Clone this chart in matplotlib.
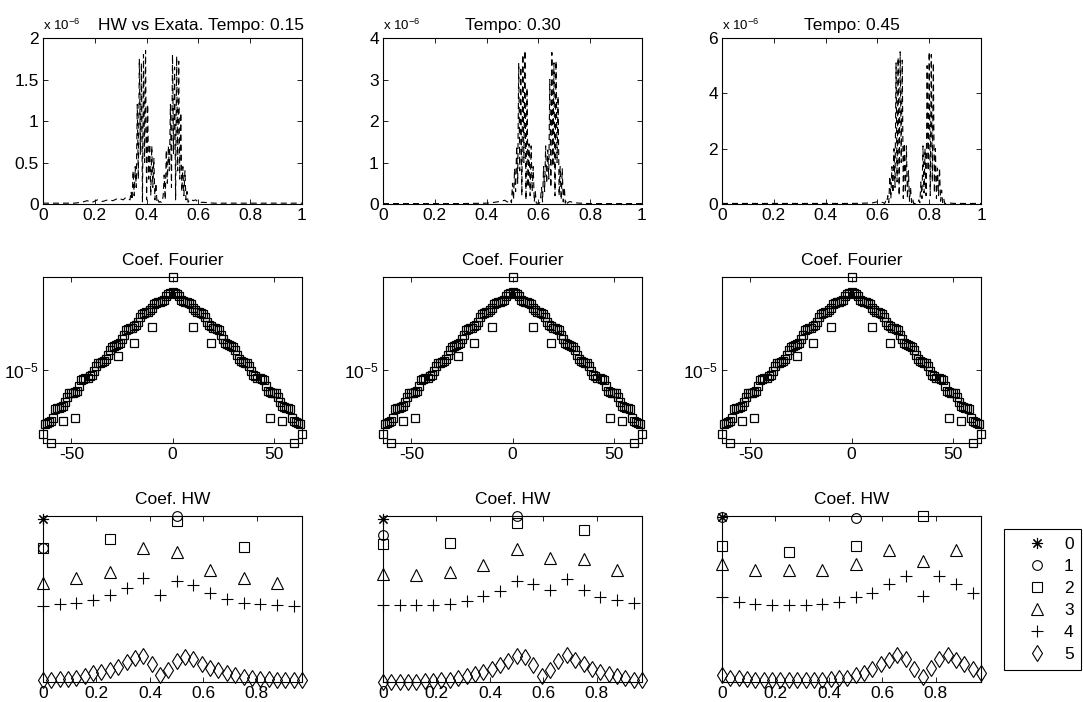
import numpy as np
import matplotlib
matplotlib.use("Agg")
import matplotlib.pyplot as plt
from matplotlib.ticker import FixedLocator, FuncFormatter, NullLocator

# ---------------------------------------------------------------------------
# Data
# ---------------------------------------------------------------------------
STEP = 0.004  # spacing of the dense samples in the error curves

# error HW vs exact (units of 1e-6), Tempo 0.15
err015_bg_x = [0.0, 0.04, 0.08, 0.12, 0.15, 0.17, 0.19, 0.21, 0.23, 0.25, 0.27, 0.29, 0.31, 0.32, 0.33,
               0.57, 0.58, 0.59, 0.60, 0.62, 0.66, 0.70, 0.75, 0.80, 0.85, 0.90, 0.95, 1.0]
err015_bg_y = [0.01, 0.01, 0.01, 0.01, 0.02, 0.04, 0.02, 0.05, 0.03, 0.05, 0.04, 0.07, 0.05, 0.08, 0.06,
               0.06, 0.04, 0.05, 0.02, 0.02, 0.01, 0.01, 0.01, 0.01, 0.01, 0.01, 0.01, 0.01]
err015_start = 0.336
err015_y = [0.05, 0.15, 0.05, 0.40, 0.10, 0.45, 0.20, 1.20, 0.30, 1.75, 0.60, 1.70, 0.02, 1.80,
            0.50, 1.85, 0.05, 1.20, 0.30, 0.72, 0.10, 0.70, 0.20, 0.55, 0.05, 0.25, 0.02, 0.05,
            0.02, 0.03,
            0.02, 0.02, 0.10, 0.35, 0.05, 0.65, 0.25, 0.70, 0.40, 1.20, 0.20, 1.80, 0.60, 1.65,
            0.05, 1.78, 0.40, 1.72, 0.30, 1.10, 0.15, 0.45, 0.10, 0.40, 0.05, 0.15, 0.02, 0.04]

# Tempo 0.30
err030_bg_x = [0.0, 0.1, 0.2, 0.3, 0.4, 0.43, 0.45, 0.47, 0.48,
               0.72, 0.74, 0.76, 0.80, 0.85, 0.90, 0.95, 1.0]
err030_bg_y = [0.01, 0.01, 0.01, 0.01, 0.02, 0.04, 0.06, 0.09, 0.05,
               0.06, 0.03, 0.02, 0.01, 0.01, 0.01, 0.01, 0.01]
err030_start = 0.488
err030_y = [0.05, 0.10, 0.03, 0.50, 0.10, 0.85, 0.30, 1.40, 0.50, 3.40, 0.80, 3.30, 0.20, 3.60,
            1.00, 3.70, 0.10, 2.80, 0.40, 1.45, 0.20, 1.40, 0.30, 0.90, 0.05, 0.30, 0.02, 0.02,
            0.02,
            0.02, 0.10, 0.40, 0.05, 0.90, 0.30, 1.40, 0.50, 1.30, 0.60, 3.00, 0.40, 3.65, 0.90,
            3.40, 0.20, 3.45, 1.00, 2.60, 0.20, 0.90, 0.10, 0.85, 0.05, 0.40, 0.02, 0.10, 0.02]

# Tempo 0.45
err045_bg_x = [0.0, 0.1, 0.2, 0.3, 0.4, 0.5, 0.55, 0.58, 0.60, 0.61, 0.62,
               0.87, 0.90, 0.95, 1.0]
err045_bg_y = [0.02, 0.02, 0.02, 0.02, 0.02, 0.02, 0.03, 0.04, 0.08, 0.05, 0.06,
               0.04, 0.02, 0.02, 0.02]
err045_start = 0.628
err045_y = [0.02, 0.10, 0.05, 0.30, 0.05, 1.00, 0.20, 1.35, 0.40, 2.00, 0.60, 5.10, 0.80, 5.30,
            0.30, 5.50, 1.50, 5.20, 0.20, 2.20, 0.40, 2.10, 0.20, 1.20, 0.10, 0.60, 0.05, 0.20,
            0.02, 0.02,
            0.02, 0.02,
            0.02, 0.15, 0.05, 0.80, 0.20, 2.10, 0.40, 2.00, 0.30, 5.00, 1.20, 5.50, 0.30, 5.40,
            0.80, 5.10, 0.40, 2.00, 0.20, 1.30, 0.30, 1.30, 0.10, 0.50, 0.05, 0.20, 0.02, 0.02]

# Fourier coefficient magnitudes (units of 1e-5), k = -63 .. 63
fourier_k = np.arange(-63, 64)
fourier_mag = [0.43, 0.436, 0.44, 0.45, 0.47, 0.54, 0.55, 0.55, 0.56,
               0.57, 0.60, 0.65, 0.69, 0.695, 0.70, 0.71,
               0.72, 0.78, 0.85, 0.87, 0.877, 0.88,
               0.90, 0.92, 0.98, 1.05, 1.10, 1.11, 1.12, 1.14,
               1.18, 1.25, 1.35, 1.42, 1.45, 1.46, 1.48, 1.52,
               1.60, 1.70, 1.85, 1.88, 1.90, 1.90, 1.95, 2.00,
               2.10, 2.25, 2.35, 2.40, 2.44, 2.45, 2.50,
               2.60, 2.75, 2.80, 2.85, 2.85, 2.90, 2.95,
               3.15, 3.25, 3.30,
               3.33,
               3.30, 3.25, 3.15, 2.95, 2.90, 2.85, 2.85, 2.80, 2.75, 2.60,
               2.50, 2.45, 2.44, 2.40, 2.35, 2.25, 2.10,
               2.00, 1.95, 1.90, 1.90, 1.88, 1.85, 1.70, 1.60,
               1.52, 1.48, 1.46, 1.45, 1.42, 1.35, 1.25, 1.18,
               1.14, 1.12, 1.11, 1.10, 1.05, 0.98, 0.92, 0.90,
               0.88, 0.877, 0.87, 0.85, 0.78, 0.72,
               0.71, 0.70, 0.695, 0.69, 0.65, 0.60, 0.57,
               0.56, 0.55, 0.55, 0.54, 0.47, 0.45,
               0.44, 0.436, 0.43]
fourier_out_k = [-64, -60, -54, -48, -27, -19, -10, 0, 10, 19, 48, 54, 60, 64]
fourier_out_mag = [0.37, 0.32, 0.45, 0.47, 1.23, 1.51, 1.93, 4.2, 1.93, 1.51, 0.47, 0.45, 0.32, 0.37]

# Haar-wavelet coefficients per level (relative height in the box, 0..1)
hw015 = [
    [0.98],
    [0.805, 1.0],
    [0.805, 0.861, 0.97, 0.815],
    [0.598, 0.624, 0.665, 0.805, 0.785, 0.675, 0.624, 0.598],
    [0.460, 0.470, 0.474, 0.494, 0.524, 0.568, 0.624, 0.524,
     0.608, 0.584, 0.538, 0.498, 0.478, 0.470, 0.464, 0.460],
    [0.012, 0.012, 0.016, 0.018, 0.026, 0.036, 0.052, 0.062, 0.072, 0.092, 0.122, 0.142,
     0.157, 0.108, 0.042, 0.072, 0.128, 0.152, 0.136, 0.108, 0.086, 0.072, 0.056, 0.042,
     0.032, 0.026, 0.020, 0.016, 0.012, 0.012, 0.012, 0.012],
]
hw030 = [
    [0.984],
    [0.888, 1.0],
    [0.833, 0.839, 0.958, 0.918],
    [0.649, 0.643, 0.663, 0.703, 0.803, 0.747, 0.739, 0.677],
    [0.466, 0.466, 0.466, 0.466, 0.472, 0.488, 0.516, 0.546,
     0.606, 0.592, 0.556, 0.622, 0.556, 0.512, 0.492, 0.478],
    [0.0, 0.0, 0.0, 0.0, 0.0, 0.004, 0.006, 0.010, 0.014, 0.024, 0.036, 0.050,
     0.060, 0.080, 0.100, 0.126, 0.154, 0.150, 0.100, 0.036, 0.070, 0.126, 0.160, 0.134,
     0.110, 0.080, 0.060, 0.050, 0.034, 0.024, 0.014, 0.010],
]
hw045 = [
    [0.994],
    [0.994, 0.990],
    [0.818, 0.783, 0.820, 1.0],
    [0.713, 0.677, 0.673, 0.677, 0.713, 0.794, 0.729, 0.794],
    [0.512, 0.482, 0.472, 0.466, 0.466, 0.466, 0.472, 0.482,
     0.512, 0.536, 0.588, 0.636, 0.516, 0.636, 0.588, 0.536],
    [0.044, 0.026, 0.022, 0.018, 0.014, 0.014, 0.010, 0.010, 0.010, 0.010, 0.010, 0.014,
     0.014, 0.018, 0.022, 0.026, 0.040, 0.056, 0.080, 0.111, 0.131, 0.161, 0.141, 0.080,
     0.030, 0.084, 0.141, 0.161, 0.131, 0.111, 0.080, 0.056],
]

level_labels = ["0", "1", "2", "3", "4", "5"]
level_markers = [(8, 2, 0), "o", "s", "^", "+", "d"]
level_sizes = [8, 7, 7.5, 8, 9, 8]

# ---------------------------------------------------------------------------
# Plot setup
# ---------------------------------------------------------------------------
FS = 12.5
plt.rcParams["font.family"] = ["Liberation Sans", "DejaVu Sans"]
plt.rcParams["font.size"] = FS
plt.rcParams["axes.unicode_minus"] = False
plt.rcParams["lines.scale_dashes"] = False
plt.rcParams["mathtext.fontset"] = "custom"
plt.rcParams["mathtext.rm"] = "Liberation Sans"
plt.rcParams["mathtext.it"] = "Liberation Sans"

W, H = 1083, 702
fig = plt.figure(figsize=(W / 100, H / 100), dpi=100)

col_left = [43, 383, 722]
ax_w = 259
row_top = [38, 277, 516]
ax_h = 166


def make_axes(col, row):
    left = col_left[col] / W
    bottom = 1 - (row_top[row] + ax_h) / H
    ax = fig.add_axes([left, bottom, ax_w / W, ax_h / H])
    ax.tick_params(direction="in", top=True, right=True, length=3.5, width=0.6, pad=3, labelsize=FS)
    for s in ax.spines.values():
        s.set_linewidth(0.8)
    return ax


fmt_g = FuncFormatter(lambda v, p: "%g" % v)

# Top row: error curves
top_sets = [
    (err015_bg_x, err015_bg_y, err015_start, err015_y, 2, [0, 0.5, 1, 1.5, 2], "HW vs Exata. Tempo: 0.15", 0.61),
    (err030_bg_x, err030_bg_y, err030_start, err030_y, 4, [0, 1, 2, 3, 4], "Tempo: 0.30", 0.5),
    (err045_bg_x, err045_bg_y, err045_start, err045_y, 6, [0, 2, 4, 6], "Tempo: 0.45", 0.5),
]
for col, (bx, by, x0, ys, ymax, yt, title, tx) in enumerate(top_sets):
    ax = make_axes(col, 0)
    dense_x = x0 + STEP * np.arange(len(ys))
    xs = np.concatenate([bx, dense_x])
    yv = np.concatenate([by, ys])
    order = np.argsort(xs)
    ax.plot(xs[order], yv[order], color="black", linewidth=0.8, dashes=(4.3, 2.9))
    ax.set_xlim(0, 1)
    ax.set_ylim(0, ymax)
    ax.set_xticks([0, 0.2, 0.4, 0.6, 0.8, 1])
    ax.set_yticks(yt)
    ax.xaxis.set_major_formatter(fmt_g)
    ax.yaxis.set_major_formatter(fmt_g)
    ax.set_title(title, x=tx, pad=6, fontsize=FS)
    ax.text(0.0, 1.03, r"x 10$^{-6}$", transform=ax.transAxes, fontsize=9.5, ha="left", va="bottom")

# Middle row: Fourier coefficients (same spectrum at every time)
for col in range(3):
    ax = make_axes(col, 1)
    ax.set_yscale("log")
    ax.plot(fourier_k, np.array(fourier_mag) * 1e-5, linestyle="none", marker="s",
            markersize=6.2, markerfacecolor="none", markeredgecolor="black", markeredgewidth=0.9,
            clip_on=False)
    ax.plot(fourier_out_k, np.array(fourier_out_mag) * 1e-5, linestyle="none", marker="s",
            markersize=6.2, markerfacecolor="none", markeredgecolor="black", markeredgewidth=0.9,
            clip_on=False)
    ax.set_xlim(-64, 64)
    ax.set_ylim(3.2e-6, 4.2e-5)
    ax.set_xticks([-50, 0, 50])
    ax.xaxis.set_major_formatter(fmt_g)
    ax.yaxis.set_major_locator(FixedLocator([1e-5]))
    ax.yaxis.set_minor_locator(NullLocator())
    ax.yaxis.set_major_formatter(FuncFormatter(lambda v, p: r"10$^{-5}$"))
    ax.set_title("Coef. Fourier", pad=9, fontsize=FS)

# Bottom row: HW coefficients per level
handles = []
for col, levels in enumerate([hw015, hw030, hw045]):
    ax = make_axes(col, 2)
    for lev, vals in enumerate(levels):
        n = len(vals)
        xs = np.arange(n) / n
        ln, = ax.plot(xs, vals, linestyle="none", marker=level_markers[lev], markersize=level_sizes[lev],
                      markerfacecolor="none", markeredgecolor="black", markeredgewidth=0.8,
                      color="black", clip_on=False, label=level_labels[lev])
        if col == 2:
            handles.append(ln)
    ax.set_xlim(0, 31 / 32)
    ax.set_ylim(0, 1)
    ax.set_xticks([0, 0.2, 0.4, 0.6, 0.8])
    ax.xaxis.set_major_formatter(fmt_g)
    ax.set_yticks([])
    ax.tick_params(right=False, left=False)
    ax.set_title("Coef. HW", pad=9, fontsize=FS)

# Legend box on the right
leg = fig.legend(handles=handles, loc="upper left", bbox_to_anchor=(1004 / W, 1 - 529 / H),
                 numpoints=1, handlelength=2.9, handletextpad=0.1, borderpad=0.45, labelspacing=0.4,
                 fancybox=False, edgecolor="black", framealpha=1, fontsize=FS, borderaxespad=0)
leg.get_frame().set_linewidth(0.8)

fig.savefig("out.png", dpi=100, facecolor="white")
